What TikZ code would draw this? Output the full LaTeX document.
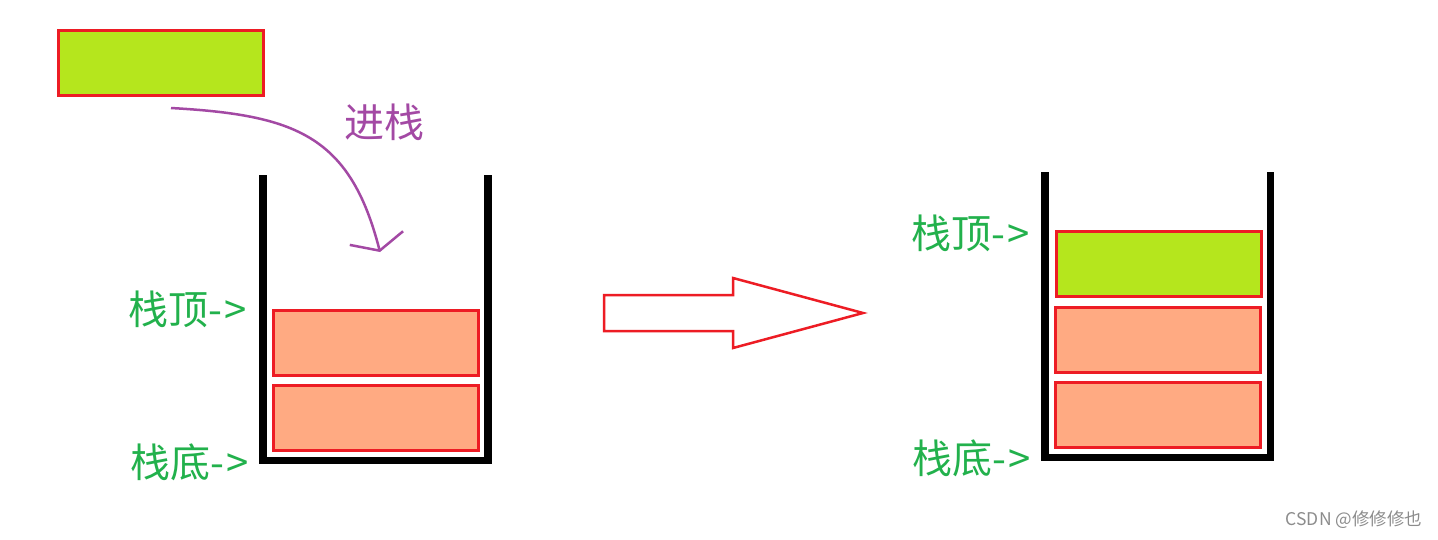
\documentclass[tikz,border=0pt]{standalone}
\usepackage{fontspec}
\newfontfamily\cjk{Noto Sans CJK SC}
\usetikzlibrary{positioning}
\usetikzlibrary{arrows.meta}

\definecolor{boxred}{HTML}{ED1C24}
\definecolor{newgreen}{HTML}{B5E61D}
\definecolor{oldorange}{HTML}{FFAA82}
\definecolor{labelgreen}{HTML}{22B14C}
\definecolor{pushpurple}{HTML}{A349A4}

\tikzset{
    elem/.style={rectangle, draw=boxred, line width=3pt, inner sep=0pt,
        minimum width=205pt, minimum height=65pt},
    wall/.style={draw=black, line width=7.5pt, miter limit=10},
    mark label/.style={text=labelgreen, font=\cjk\fontsize{40}{40}\selectfont,
        inner sep=0pt},
}

\begin{document}
\begin{tikzpicture}[x=1pt, y=-1pt]
        \useasboundingbox[fill=white] (0,0) rectangle (1438,539);

        % element waiting to be pushed
        \node[elem, fill=newgreen] (new) at (161,63) {};

        % left stack
        \draw[wall] (263,175) -- (263,460.5) -- (488,460.5) -- (488,175);
        \node[elem, fill=oldorange] (l2) at (376,418) {};
        \node[elem, fill=oldorange] (l1) at (376,343) {};

        \node[mark label] (ltop) at (188,309) {栈顶-\kern2pt>};
        \node[mark label] (lbot) at (190,462) {栈底-\kern2pt>};

        \coordinate (push start) at (171,108);
        \coordinate (push end) at (380,252);
        \draw[pushpurple, line width=2.5pt,
            -{Straight Barb[length=13pt, width=55pt]}]
        (push start) .. controls (295,115) and (350,135) .. (push end);
        \node[text=pushpurple, font=\cjk\fontsize{40}{40}\selectfont,
        inner sep=0pt] (push) at (384,122) {进栈};

        % big arrow between the two states
        \draw[boxred, line width=2.5pt, line join=miter]
        (604,295) -- (733,295) -- (733,278) -- (863,313)
        -- (733,348) -- (733,331) -- (604,331) -- cycle;

        % right stack
        \draw[wall] (1045,172) -- (1045,457.5) -- (1270.5,457.5) -- (1270.5,172);
        \node[elem, fill=oldorange] (r3) at (1158,415) {};
        \node[elem, fill=oldorange] (r2) at (1158,339.5) {};
        \node[elem, fill=newgreen] (r1) at (1159,263.5) {};

        \node[mark label] (rtop) at (971,233) {栈顶-\kern2pt>};
        \node[mark label] (rbot) at (972,458) {栈底-\kern2pt>};

        \node[text=black!45, font=\cjk\fontsize{17.5}{17.5}\selectfont,
        inner sep=0pt] (wm) at (1354,520) {CSDN @修修修也};
    \end{tikzpicture}
\end{document}
